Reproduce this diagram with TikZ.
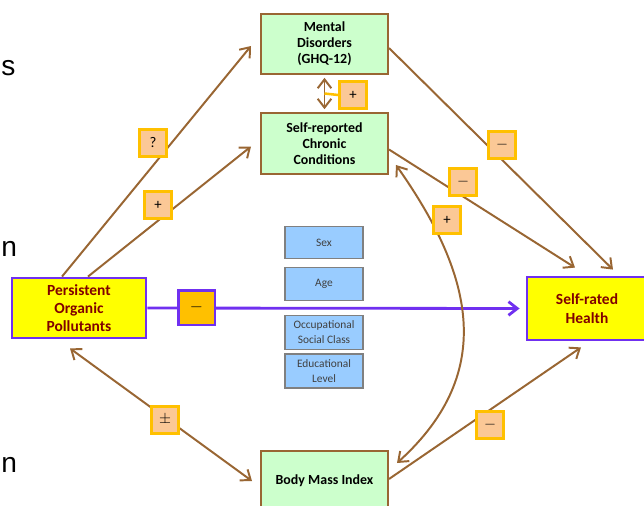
\documentclass[tikz,border=0pt]{standalone}
\usepackage{fontspec}
\setmainfont{Carlito}
\newfontfamily\slidefont{Liberation Sans}
\usetikzlibrary{calc,arrows.meta}
\definecolor{arrowbrown}{RGB}{153,102,51}
\definecolor{boxgreen}{RGB}{204,255,204}
\definecolor{boxblue}{RGB}{153,204,255}
\definecolor{signfill}{RGB}{251,200,150}
\definecolor{signgold}{RGB}{255,192,0}
\definecolor{popyellow}{RGB}{255,255,0}
\definecolor{popred}{RGB}{128,0,0}
\definecolor{poppurple}{RGB}{112,48,240}

\begin{document}
\begin{tikzpicture}[x=0.025cm,y=-0.025cm,
		>={Straight Barb[length=2.2mm,width=3.4mm]},
		greenbox/.style={draw=arrowbrown, line width=1.4pt, fill=boxgreen, minimum width=3.175cm, minimum height=1.5cm, align=center, font=\fontsize{9.9}{11.3}\selectfont\bfseries},
		popbox/.style={draw=poppurple, line width=2pt, fill=popyellow, text=popred, minimum height=1.5cm, align=center, font=\fontsize{11}{13}\selectfont\bfseries},
		bluebox/.style={draw=black!50, line width=1.2pt, fill=boxblue, text=black!75, minimum width=1.95cm, align=center, inner sep=1pt, font=\fontsize{8.1}{10.6}\selectfont},
		signbox/.style={draw=signgold, line width=1.8pt, fill=signfill, minimum size=0.68cm, inner sep=0pt, font=\fontsize{10.5}{12}\selectfont},
		link/.style={draw=arrowbrown, line width=1.4pt},
		fragment/.style={anchor=west, inner sep=0pt, font=\slidefont\fontsize{20}{24}\selectfont}]
		%\draw[help lines] (0,0) grid[step=50] (644,506);
		\useasboundingbox (0,0) rectangle (644,506);
		
		% slide text on the left
		\node[fragment] (fragS) at (1,68) {s};
		\node[fragment] (fragN1) at (1,249) {n};
		\node[fragment] (fragN2) at (1,465) {n};
		
		% mediators
		\node[greenbox] (mental) at (324.5,44) {Mental\\Disorders\\(GHQ-12)};
		\node[greenbox, minimum height=1.525cm] (chronic) at (324.5,143.5) {Self-reported\\Chronic\\Conditions};
		\node[greenbox] (bmi) at (324.5,481) {Body Mass Index};
		
		% exposure and outcome
		\node[popbox, minimum width=3.35cm] (pop) at (79,308) {Persistent\\Organic\\Pollutants};
		\node[popbox, minimum width=3cm, minimum height=1.575cm] (srh) at (587,308.5) {Self-rated\\Health};
		
		% covariates
		\node[bluebox, minimum height=0.8cm] (sex) at (324,242.5) {Sex};
		\node[bluebox, minimum height=0.83cm] (age) at (324,284) {Age};
		\node[bluebox, minimum height=0.85cm] (occ) at (324,332.5) {Occupational\\Social Class};
		\node[bluebox, minimum height=0.85cm] (edu) at (324,371) {Educational\\Level};
		
		% main path
		\draw[draw=poppurple, line width=2pt, ->] (pop.east) -- ($(srh.west)+(-6,0)$);
		\node[signbox, draw=poppurple, fill=signgold, minimum width=0.92cm, minimum height=0.87cm, line width=2pt, font=\fontsize{13}{14}\selectfont\bfseries] (mainsign) at (196.5,307.5) {$-$};
		
		% arrows to and from the mediators
		\draw[link, ->] ($(pop.north)+(-17,0)$) -- ($(mental.west)+(-9,2)$);
		\draw[link, ->] ($(pop.north)+(9,0)$) -- ($(chronic.west)+(-9,3)$);
		\draw[link, ->] ($(mental.east)+(0,4)$) -- ($(srh.north)+(26,-6)$);
		\draw[link, ->] ($(chronic.east)+(0,6)$) -- ($(srh.north)+(-12,-8)$);
		\draw[link, <->] ($(pop.south)+(-9,9)$) -- ($(bmi.west)+(-8,0)$);
		\draw[link, ->] ($(bmi.east)+(0,-2)$) -- ($(srh.south)+(-6,6)$);
		\draw[link, <->] ($(chronic.south east)+(7,-10)$) .. controls (470,270) and (500,370) .. ($(bmi.north east)+(8,13)$);
		\draw[link, <->, shorten <=2pt, shorten >=2pt] (mental.south) -- (chronic.north);
		\coordinate (mcmid) at ($(mental.south)!0.5!(chronic.north)$);
		
		% signs
		\node[signbox] (signQ) at (153,143) {?};
		\node[signbox] (signPlusA) at (158,205) {+};
		\node[signbox] (signPlusB) at (353,95) {+};
		\draw[draw=signgold, line width=1.8pt] (mcmid) -- (signPlusB.west);%link to the double arrow
		\node[signbox] (signMinusA) at (502,145) {$-$};
		\node[signbox] (signMinusB) at (463,182) {$-$};
		\node[signbox] (signPlusC) at (447,220) {+};
		\node[signbox] (signPM) at (165,420) {$\pm$};
		\node[signbox] (signMinusC) at (490,425) {$-$};
\end{tikzpicture}
\end{document}
